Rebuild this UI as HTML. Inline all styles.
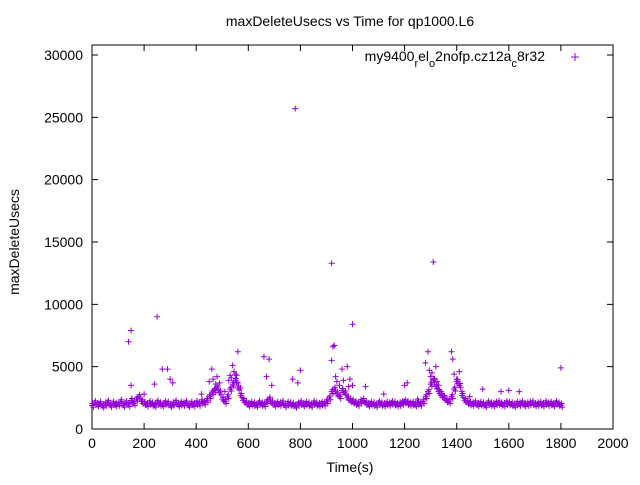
<!DOCTYPE html>
<html><head><meta charset="utf-8"><style>
body{margin:0;background:#fff}
svg text{font-family:"Liberation Sans",sans-serif;font-size:14px;fill:#000}
</style></head><body>
<svg id="chart" width="640" height="480">
<rect x="0" y="0" width="640" height="480" fill="#fff"/>
<text x="350" y="26" text-anchor="middle">maxDeleteUsecs vs Time for qp1000.L6</text>
<text x="19" y="242" text-anchor="middle" transform="rotate(-90 19 242)">maxDeleteUsecs</text>
<text x="350" y="472" text-anchor="middle">Time(s)</text>
<g id="axes"></g>
<g id="marks"></g>
<g>
<text x="545" y="61" text-anchor="end">my9400<tspan baseline-shift="sub" font-size="11">r</tspan>el<tspan baseline-shift="sub" font-size="11">o</tspan>2nofp.cz12a<tspan baseline-shift="sub" font-size="11">c</tspan>8r32</text>
<path d="M571,57h8M575,53v8" stroke="#9400d3" stroke-width="1"/>
</g>
</svg>
<script>
const xTicks=[0,200,400,600,800,1000,1200,1400,1600,1800,2000];
const yTicks=[0,5000,10000,15000,20000,25000,30000];
const baseTimes=[0,10,20,30,40,50,60,70,80,90,100,110,120,130,140,150,160,170,180,190,200,210,220,230,240,250,260,270,280,290,300,310,320,330,340,350,360,370,380,390,400,410,420,430,440,450,460,470,480,490,500,510,520,530,540,550,560,570,580,590,600,610,620,630,640,650,660,670,680,690,700,710,720,730,740,750,760,770,780,790,800,810,820,830,840,850,860,870,880,890,900,910,920,930,940,950,960,970,980,990,1000,1010,1020,1030,1040,1050,1060,1070,1080,1090,1100,1110,1120,1130,1140,1150,1160,1170,1180,1190,1200,1210,1220,1230,1240,1250,1260,1270,1280,1290,1300,1310,1320,1330,1340,1350,1360,1370,1380,1390,1400,1410,1420,1430,1440,1450,1460,1470,1480,1490,1500,1510,1520,1530,1540,1550,1560,1570,1580,1590,1600,1610,1620,1630,1640,1650,1660,1670,1680,1690,1700,1710,1720,1730,1740,1750,1760,1770,1780,1790,1800];
const baseValues=[1900,2100,1950,2050,1850,2000,2150,1900,2050,1950,2000,2200,1900,2100,1950,2300,2050,2400,2600,2200,2050,1950,2100,2000,1900,2150,2000,1950,2100,2050,1900,2000,2150,1950,2050,2000,2100,1900,2050,1950,2100,2000,2200,2100,2300,2600,2900,3100,3300,2900,2400,2200,2600,3200,3600,3900,3300,2700,2300,2100,1950,2050,2000,1900,2100,2000,1950,2200,2400,2100,1950,2050,2000,2100,1900,2050,2000,1950,1850,2000,2100,1950,2050,2000,1900,2100,2000,1950,2050,2000,2200,2500,3000,3200,2800,2600,3100,2900,2500,2300,2200,2100,2000,2200,2300,2100,1950,2050,2000,1900,2100,2000,1950,2050,2000,2100,2050,1950,2000,2100,2200,2100,2000,2050,1950,2100,2000,2200,2600,3000,3600,3900,3400,3000,2700,2500,2300,2200,2600,3200,3800,3500,2700,2300,2150,2050,2000,2100,1950,2050,2000,1900,2100,2000,1950,2050,2100,2000,1950,2100,2050,2000,1900,2050,2000,2100,1950,2000,2050,2100,1950,2000,2050,1950,2100,2000,2050,1950,2100,2000,1900,2050];
const outTimes=[140,150,250,150,270,290,300,310,240,450,460,480,490,540,550,560,560,660,680,670,690,770,780,790,800,920,925,930,920,940,960,980,990,1000,1000,1050,1120,1200,1210,1280,1290,1310,1320,1300,1330,1380,1385,1390,1400,1410,1500,1570,1600,1640,1800,420,470,510,530,545,570,950,1340,1350,1400,1420,1450,200,1250,935,965,985,1295,1305,1315,1325,525,535,555,475,465];
const outValues=[7000,7900,9000,3500,4800,4800,4000,3700,3600,3800,4800,4200,3700,5100,4400,6200,3700,5800,5600,4200,3500,4000,25700,3700,4700,13300,6600,6700,5500,3800,4800,5000,4000,8400,3500,3400,2800,3500,3700,5300,6200,13400,5000,4200,3500,6200,5600,4400,4000,4600,3200,3000,3100,3000,4900,2800,3200,3000,4300,4600,3300,3500,3000,2700,3800,3000,2600,2800,2400,4200,3900,3400,4700,4500,4000,3800,3900,4100,4300,3600,4000];
const X0=92,X1=613,Y0=429,Y1=45;
const sx=v=>X0+(v-0)/2000*(X1-X0);
const sy=v=>Y0-(v/30000)*374;
const NS="http://www.w3.org/2000/svg";
const axes=document.getElementById('axes'),marks=document.getElementById('marks');
function el(t,a,p){const e=document.createElementNS(NS,t);for(const k in a)e.setAttribute(k,a[k]);p.appendChild(e);return e;}
const frame=el('rect',{x:X0,y:Y1,width:X1-X0,height:Y0-Y1,fill:'none',stroke:'#000','stroke-width':1},axes);


xTicks.forEach(t=>{const x=sx(t);
el('path',{d:`M${x},${Y0}v-6M${x},${Y1}v6`,stroke:'#000'},axes);
const tx=el('text',{x:x,y:Y0+19,'text-anchor':'middle'},axes);tx.textContent=t;

});
yTicks.forEach(t=>{const y=sy(t);
el('path',{d:`M${X0},${y}h6M${X1},${y}h-6`,stroke:'#000'},axes);
const tx=el('text',{x:X0-9,y:y+5,'text-anchor':'end'},axes);tx.textContent=t;

});
function plus(t,v){const x=sx(t),y=sy(v);
const p=el('path',{d:`M${x-3},${y}h6M${x},${y-3}v6`,stroke:'#9400d3','stroke-width':1},marks);

}
const n=Math.min(baseTimes.length,baseValues.length);
for(let i=0;i<n;i++){const t=baseTimes[i],v=baseValues[i];plus(t,v);plus(t+5,v-150);plus(t+3,v+150);}
outTimes.forEach((t,i)=>plus(t,outValues[i]));
</script>
</body></html>
